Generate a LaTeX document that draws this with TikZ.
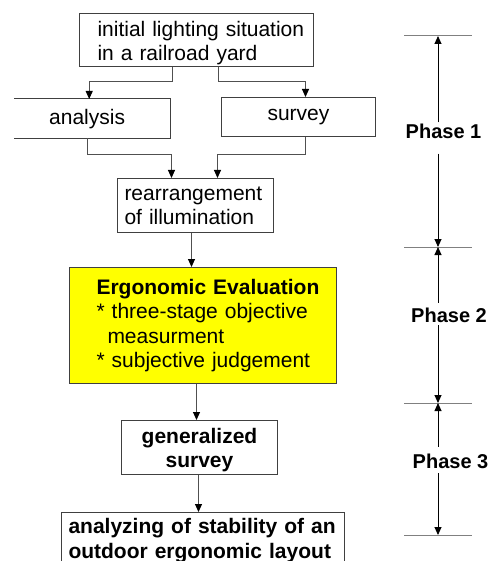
\documentclass[tikz,border=0pt]{standalone}
\usepackage{fontspec}
\setmainfont{Liberation Sans}
\usetikzlibrary{arrows.meta,calc}
\definecolor{boxline}{HTML}{404040}
\definecolor{linegray}{HTML}{505050}
\definecolor{tickgray}{HTML}{808080}
\definecolor{evalyellow}{HTML}{FFFF00}
\hbadness=10000 \hfuzz=100pt
% invisible strut that lowers the first line of a box a little
\newcommand{\topstrut}[1]{\rule{0pt}{#1}}
\begin{document}
\begin{tikzpicture}[x=1pt,y=-1pt,
  box/.style={draw=boxline, line width=1pt, inner ysep=0pt,
    font=\fontsize{21}{24}\selectfont},
  openbox/.style={inner ysep=0pt, font=\fontsize{21}{24}\selectfont},
  conn/.style={draw=linegray, line width=1pt,
    -{Triangle[width=7pt,length=8pt,color=black]}},
  phase/.style={inner sep=0pt, font=\fontsize{20}{24}\selectfont\bfseries},
  axis/.style={draw=black, line width=0.9pt,
    -{Triangle[width=7pt,length=8pt]}},
  tickline/.style={draw=tickgray, line width=1pt},
]
\useasboundingbox (0,0) rectangle (495,561);
\clip (0,0) rectangle (495,561);

% ---- flow boxes ----
\node[box, anchor=north west, minimum width=234, minimum height=53,
  inner xsep=18pt, text width=198, align=left] (initial) at (79,13)
  {\mbox{\topstrut{21.5pt}initial lighting situation}\\\mbox{in a railroad yard}};

\node[openbox, anchor=north west, minimum width=156, minimum height=39,
  inner xsep=35pt, text width=86, align=left] (analysis) at (14,99) {analysis};
\draw[boxline, line width=1pt] (analysis.north west) -- (analysis.north east)
  -- (analysis.south east) -- (analysis.south west);

\node[box, anchor=north west, minimum width=154, minimum height=39,
  inner xsep=46pt, text width=62, align=left] (survey) at (221,97) {survey};

\node[box, anchor=north west, minimum width=156, minimum height=54,
  inner xsep=7pt, text width=142, align=left] (rearr) at (117,178)
  {\mbox{rearrangement}\\\mbox{of illumination}};

\node[box, fill=evalyellow, anchor=north west, minimum width=267, minimum height=116,
  inner xsep=27pt, text width=213, align=left,
  font=\fontsize{21}{24.5}\selectfont] (eval) at (69,267)
  {\mbox{\bfseries Ergonomic Evaluation}\\\mbox{* three-stage objective}\\\mbox{\hspace*{11pt}measurment}\\\mbox{* subjective judgement}};

\node[box, anchor=north west, minimum width=156, minimum height=54,
  inner xsep=0pt, text width=156, align=center,
  font=\fontsize{21}{24}\selectfont\bfseries] (general) at (121,420)
  {\topstrut{20.5pt}generalized\\survey};

\node[box, anchor=north west, minimum width=283, minimum height=56,
  inner xsep=7pt, text width=269, align=left,
  font=\fontsize{21}{24.5}\selectfont\bfseries] (analyzing) at (61,512)
  {\mbox{analyzing of stability of an}\\\mbox{outdoor ergonomic layout}};

% ---- connectors ----
\draw[conn] ([xshift=-24pt]initial.south) -- ++(0,15) -| ([xshift=-3pt]analysis.north);
\draw[conn] ([xshift=22pt]initial.south) -- ++(0,15) -| ([xshift=7pt]survey.north);
\draw[conn] ([xshift=-5pt]analysis.south) -- ++(0,16) -| ([xshift=-24pt]rearr.north);
\draw[conn] ([xshift=7pt]survey.south) -- ++(0,18) -| ([xshift=22pt]rearr.north);
\draw[conn] ([xshift=-4pt]rearr.south) -- ([xshift=-11.5pt]eval.north);
\draw[conn] ([xshift=-6.5pt]eval.south) -- ([xshift=-3pt]general.north);
\draw[conn] ([xshift=-1pt]general.south) -- ([xshift=-4.5pt]analyzing.north);

% ---- phase scale ----
\coordinate (t0) at (438,36);
\coordinate (t1) at (438,247);
\coordinate (t2) at (438,403);
\coordinate (t3) at (438,535);
\draw[tickline] ([xshift=-34pt]t0) -- ([xshift=34pt]t0);
\draw[tickline] ([xshift=-34pt]t1) -- ([xshift=34pt]t1);
\draw[tickline] ([xshift=-34pt]t2) -- ([xshift=34pt]t2);
\draw[tickline] ([xshift=-34pt]t3) -- ([xshift=34pt]t3);

\node[phase] (p1) at (443.5,131.5) {Phase 1};
\node[phase] (p2) at (449,315.5) {Phase 2};
\node[phase] (p3) at (450.5,461.5) {Phase 3};

\draw[axis] ($(p1.north -| t0)+(0,-1.5)$) -- (t0);
\draw[axis] ($(p1.south -| t0)+(0,14.5)$) -- (t1);
\draw[axis] ($(p2.north -| t0)+(0,-5)$) -- (t1);
\draw[axis] ($(p2.south -| t0)+(0,2)$) -- (t2);
\draw[axis] ($(p3.north -| t0)+(0,-7)$) -- (t2);
\draw[axis] ($(p3.south -| t0)+(0,4)$) -- (t3);
\end{tikzpicture}
\end{document}
